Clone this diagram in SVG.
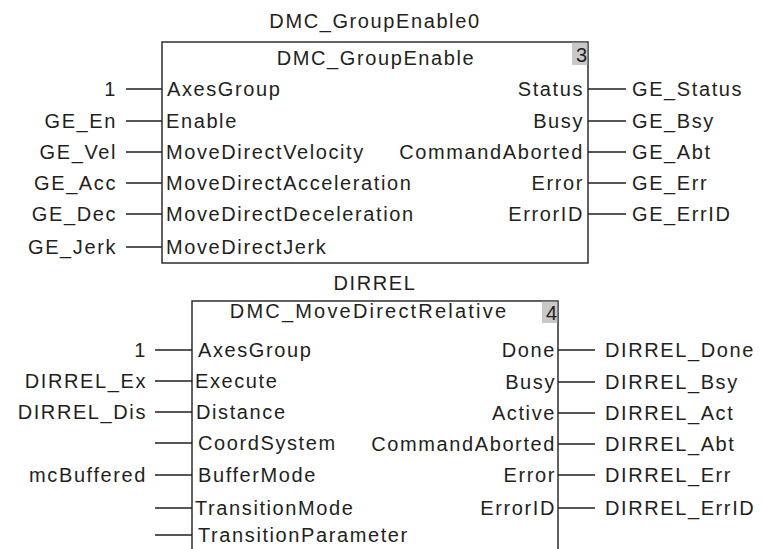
<svg xmlns="http://www.w3.org/2000/svg" width="763" height="549" viewBox="0 0 763 549">
<style>
text{font-family:"Liberation Sans",Arial,sans-serif;font-size:20px;fill:#231f20;letter-spacing:1.6px}
.e{text-anchor:end}
.m{text-anchor:middle}
.box{fill:#fff;stroke:#231f20;stroke-width:1.4}
.num{fill:#c8c8c8}
.w{stroke:#231f20;stroke-width:1.4;fill:none}
</style>
<rect width="763" height="549" fill="#fff"/>
<g id="groupEnable">
<text class="m" x="375" y="28">DMC_GroupEnable0</text>
<rect class="box" x="162" y="42" width="426" height="221"/>
<rect class="num" x="572" y="42.7" width="15.3" height="22.3"/>
<text class="m" x="376" y="65">DMC_GroupEnable</text>
<text class="e" x="587" y="62" style="letter-spacing:0">3</text>
<text x="167" y="96">AxesGroup</text>
<text x="166" y="128">Enable</text>
<text x="166" y="159">MoveDirectVelocity</text>
<text x="166" y="190">MoveDirectAcceleration</text>
<text x="166" y="221">MoveDirectDeceleration</text>
<text x="166" y="254">MoveDirectJerk</text>
<text class="e" x="584" y="96">Status</text>
<text class="e" x="584" y="128">Busy</text>
<text class="e" x="584" y="159">CommandAborted</text>
<text class="e" x="584" y="190">Error</text>
<text class="e" x="584" y="221">ErrorID</text>
<text class="e" x="117" y="96">1</text>
<text class="e" x="117" y="128">GE_En</text>
<text class="e" x="117" y="159">GE_Vel</text>
<text class="e" x="117" y="190">GE_Acc</text>
<text class="e" x="117" y="221">GE_Dec</text>
<text class="e" x="117" y="254">GE_Jerk</text>
<text x="632" y="96">GE_Status</text>
<text x="632" y="128">GE_Bsy</text>
<text x="632" y="159">GE_Abt</text>
<text x="632" y="190">GE_Err</text>
<text x="632" y="221">GE_ErrID</text>
</g>
<g id="dirrel">
<text class="m" x="375" y="290">DIRREL</text>
<rect class="box" x="192" y="301" width="366" height="260"/>
<rect class="num" x="542" y="301.7" width="15.3" height="21.3"/>
<text class="m" x="369" y="318" style="letter-spacing:2.2px">DMC_MoveDirectRelative</text>
<text class="e" x="557" y="320" style="letter-spacing:0">4</text>
<text x="198" y="357">AxesGroup</text>
<text x="195" y="388">Execute</text>
<text x="196" y="419">Distance</text>
<text x="198" y="450">CoordSystem</text>
<text x="198" y="482">BufferMode</text>
<text x="195" y="515">TransitionMode</text>
<text x="198" y="542">TransitionParameter</text>
<text class="e" x="556" y="357">Done</text>
<text class="e" x="556" y="389">Busy</text>
<text class="e" x="556" y="420">Active</text>
<text class="e" x="556" y="451">CommandAborted</text>
<text class="e" x="556" y="482">Error</text>
<text class="e" x="556" y="515">ErrorID</text>
<text class="e" x="147" y="357">1</text>
<text class="e" x="147" y="388">DIRREL_Ex</text>
<text class="e" x="147" y="419">DIRREL_Dis</text>
<text class="e" x="147" y="482">mcBuffered</text>
<text x="605" y="357">DIRREL_Done</text>
<text x="605" y="389">DIRREL_Bsy</text>
<text x="605" y="420">DIRREL_Act</text>
<text x="605" y="451">DIRREL_Abt</text>
<text x="605" y="482">DIRREL_Err</text>
<text x="605" y="515">DIRREL_ErrID</text>
</g>
<g id="connectors" class="w">
<path d="M126 89H162M126 121H162M126 152H162M126 183H162M126 214H162M126 247H162"/>
<path d="M588 89H626M588 121H626M588 152H626M588 183H626M588 214H626"/>
<path d="M155 350H192M155 381H192M155 412H192M155 443H192M155 475H192M155 508H192M155 535H192"/>
<path d="M558 350H595M558 382H595M558 413H595M558 444H595M558 475H595M558 508H595"/>
</g>
</svg>
